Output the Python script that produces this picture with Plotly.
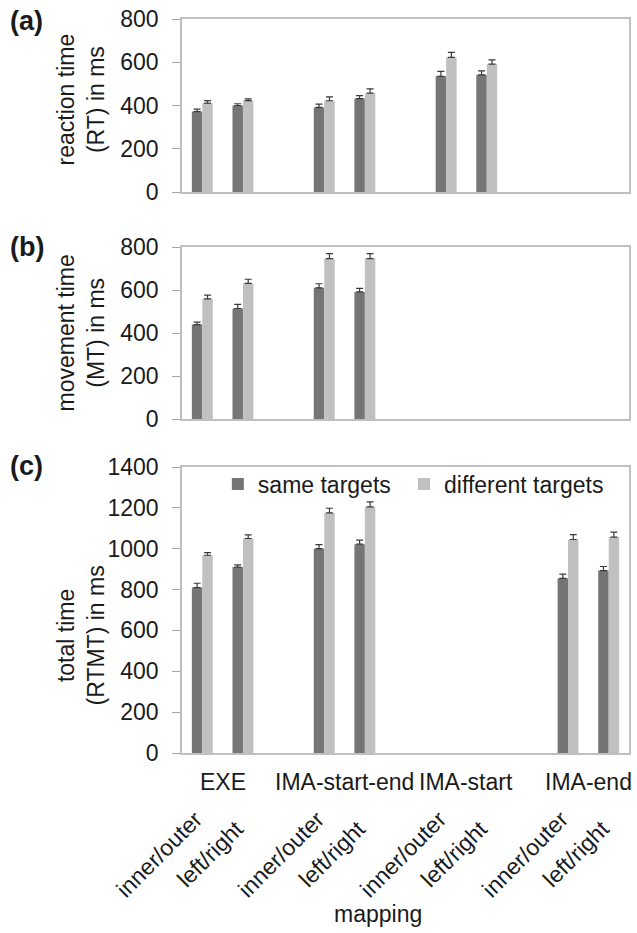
import plotly.graph_objects as go

# ---------------- data ----------------
groups = ["EXE", "IMA-start-end", "IMA-start", "IMA-end"]
sub_labels = ["inner/outer", "left/right"]
series_names = ["same targets", "different targets"]

# (a) reaction time RT in ms  (order: EXE io, EXE lr, ISE io, ISE lr, IS io, IS lr, IE io, IE lr)
rt_same = [372, 400, 391, 432, 535, 542, None, None]
rt_same_err = [11, 8, 15, 14, 23, 18, None, None]
rt_diff = [411, 423, 422, 457, 623, 591, None, None]
rt_diff_err = [12, 8, 18, 20, 23, 20, None, None]

# (b) movement time MT in ms
mt_same = [439, 514, 610, 591, None, None, None, None]
mt_same_err = [12, 19, 19, 17, None, None, None, None]
mt_diff = [559, 631, 746, 746, None, None, None, None]
mt_diff_err = [17, 19, 23, 23, None, None, None, None]

# (c) total time RTMT in ms
tt_same = [810, 910, 1000, 1022, None, None, 855, 893]
tt_same_err = [21, 11, 20, 20, None, None, 21, 20]
tt_diff = [968, 1050, 1175, 1205, None, None, 1045, 1057]
tt_diff_err = [13, 18, 23, 24, None, None, 24, 24]

panel_letters = ["(a)", "(b)", "(c)"]
y_titles = ["reaction time<br>(RT) in ms", "movement time<br>(MT) in ms", "total time<br>(RTMT) in ms"]
y_maxes = [800, 800, 1400]
x_title = "mapping"

# ---------------- style ----------------
FONT = "Liberation Sans, Arial, Helvetica, sans-serif"
TXT = "#1a1a1a"
DARK = "#757575"
LIGHT = "#C0C0C0"
BORDER = "#BFBFBF"

W, H = 637, 933
L, R, T, B = 182, 6, 19, 180
PH = H - T - B  # plot height in px
PW = W - L - R


def py(pix):  # pixel-from-top -> paper y
    return (H - B - pix) / PH


def px(pix):  # pixel-from-left -> paper x
    return (pix - L) / PW


# x positions: two slots per group, one empty slot between groups
x_pos = [g * 3 + s for g in range(len(groups)) for s in range(len(sub_labels))]

domains = [
    [py(192), py(19)],
    [py(419), py(247)],
    [py(753), py(467)],
]

panels = [
    (rt_same, rt_same_err, rt_diff, rt_diff_err),
    (mt_same, mt_same_err, mt_diff, mt_diff_err),
    (tt_same, tt_same_err, tt_diff, tt_diff_err),
]

fig = go.Figure()
for i, (s, se, d, de) in enumerate(panels):
    xa = "x" if i == 0 else f"x{i+1}"
    ya = "y" if i == 0 else f"y{i+1}"
    show = i == 2
    fig.add_trace(go.Bar(
        x=x_pos, y=s, name=series_names[0], marker_color=DARK, marker_line_width=0,
        error_y=dict(type="data", array=se, arrayminus=[0] * len(se), symmetric=False,
                     color="#3a3a3a", thickness=1.2, width=3.5),
        xaxis=xa, yaxis=ya, showlegend=show, legendgroup="same", legend="legend"))
    fig.add_trace(go.Bar(
        x=x_pos, y=d, name=series_names[1], marker_color=LIGHT, marker_line_width=0,
        error_y=dict(type="data", array=de, arrayminus=[0] * len(de), symmetric=False,
                     color="#3a3a3a", thickness=1.2, width=3.5),
        xaxis=xa, yaxis=ya, showlegend=show, legendgroup="diff", legend="legend2"))

legend_common = dict(orientation="h", xanchor="left", y=py(484), yanchor="middle",
                     font=dict(size=23, color=TXT), bgcolor="rgba(0,0,0,0)",
                     itemwidth=30)

layout = dict(
    width=W, height=H,
    margin=dict(l=L, r=R, t=T, b=B, pad=0),
    plot_bgcolor="white", paper_bgcolor="white",
    barmode="group", bargap=0.485, bargroupgap=0,
    font=dict(family=FONT, size=23, color=TXT),
    legend=dict(x=px(218), **legend_common),
    legend2=dict(x=px(405), **legend_common),
    showlegend=True,
)

for i in range(3):
    xk = "xaxis" if i == 0 else f"xaxis{i+1}"
    yk = "yaxis" if i == 0 else f"yaxis{i+1}"
    ya = "y" if i == 0 else f"y{i+1}"
    xa = "x" if i == 0 else f"x{i+1}"
    layout[xk] = dict(domain=[0, 1], anchor=ya, range=[-0.5, 10.5],
                      showticklabels=False, ticks="", showgrid=False, zeroline=False,
                      showline=True, mirror=True, linecolor=BORDER, linewidth=1.5,
                      fixedrange=True)
    layout[yk] = dict(domain=domains[i], anchor=xa, range=[0, y_maxes[i]], dtick=200,
                      showgrid=False, zeroline=False, showline=True, mirror=True,
                      linecolor=BORDER, linewidth=1.5, ticks="outside", ticklen=8,
                      tickcolor="#A6A6A6", tickwidth=1, ticklabelstandoff=9,
                      tickfont=dict(size=23, color=TXT), fixedrange=True)

fig.update_layout(**layout)

annotations = []
# panel letters
for letter, pix in zip(panel_letters, [21, 247, 466]):
    annotations.append(dict(text=f"<b>{letter}</b>", xref="paper", yref="paper",
                            x=px(7), y=py(pix), xanchor="left", yanchor="middle",
                            showarrow=False, font=dict(size=27, color=TXT)))
# y titles
for title, pix in zip(y_titles, [99, 333, 635]):
    annotations.append(dict(text=title, xref="paper", yref="paper", x=px(81), y=py(pix),
                            xanchor="center", yanchor="middle", textangle=-90,
                            showarrow=False, font=dict(size=23, color=TXT)))
# group labels and rotated sub labels
for g, gname in enumerate(groups):
    gx = [x_pos[g * 2], x_pos[g * 2 + 1]]
    annotations.append(dict(text=gname, xref="x3", yref="paper", x=sum(gx) / 2, y=py(782),
                            xanchor="center", yanchor="middle", showarrow=False,
                            font=dict(size=23, color=TXT)))
    for s, sname in enumerate(sub_labels):
        annotations.append(dict(text=sname, xref="x3", yref="paper", x=gx[s], y=py(854),
                                xanchor="right", yanchor="middle", textangle=-45,
                                xshift=8, showarrow=False, font=dict(size=23, color=TXT)))
annotations.append(dict(text=x_title, xref="paper", yref="paper", x=px(379), y=py(914),
                        xanchor="center", yanchor="middle", showarrow=False,
                        font=dict(size=23, color=TXT)))
fig.update_layout(annotations=annotations)

fig.write_html("out.html", config={"displayModeBar": False},
               post_script="document.body.style.margin='0px';document.body.style.overflow='hidden';")
